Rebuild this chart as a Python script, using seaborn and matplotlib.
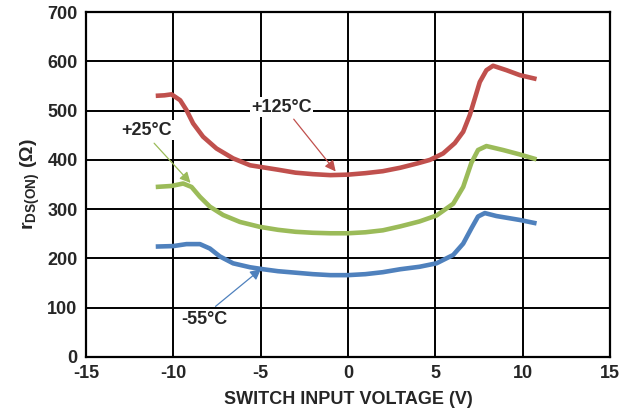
import numpy as np
import pandas as pd
import matplotlib
matplotlib.use("Agg")
import matplotlib.pyplot as plt
import seaborn as sns

# values
x_125 = [-11.0, -10.5, -10.1, -9.6, -9.24, -8.86, -8.29, -7.52, -6.57, -5.6, -4.0, -3.0, -2.0, -1.0,
         0.0, 1.0, 2.0, 3.0, 4.0, 4.7, 5.45, 6.12, 6.6, 6.98, 7.27, 7.55, 7.93, 8.31, 9.08, 9.84, 10.8]
y_125 = [530, 531, 533, 521, 501, 474, 447, 423, 403, 389, 380, 374, 371, 369,
         370, 373, 377, 384, 393, 400, 413, 434, 457, 491, 525, 558, 582, 591, 582, 572, 564]

x_25 = [-11.0, -10.1, -9.43, -8.95, -8.47, -7.9, -7.14, -6.18, -5.04, -4.0, -3.0, -2.0, -1.0,
        0.0, 1.0, 2.0, 3.0, 4.1, 5.07, 6.03, 6.6, 7.07, 7.45, 7.93, 8.88, 9.84, 10.8]
y_25 = [345, 347, 352, 345, 325, 305, 288, 274, 264, 258, 254, 252, 251,
        251, 253, 257, 265, 275, 287, 311, 345, 394, 420, 428, 420, 411, 401]

x_55 = [-11.0, -10.0, -9.24, -8.47, -7.9, -7.33, -6.57, -5.6, -4.85, -4.0, -3.0, -2.0, -1.0,
        0.0, 1.0, 2.0, 3.0, 4.1, 5.07, 6.03, 6.6, 7.07, 7.45, 7.84, 8.5, 9.84, 10.8]
y_55 = [224, 225, 229, 229, 220, 204, 190, 182, 178, 174, 171, 168, 166,
        166, 168, 172, 178, 183, 190, 207, 230, 261, 285, 292, 286, 278, 271]

labels = ["+125°C", "+25°C", "-55°C"]
colors = ["#C0504D", "#9BBB59", "#4F81BD"]
x_ticks = [-15, -10, -5, 0, 5, 10, 15]
y_ticks = [0, 100, 200, 300, 400, 500, 600, 700]

df = pd.concat([
    pd.DataFrame({"v": x_125, "r": y_125, "temp": labels[0]}),
    pd.DataFrame({"v": x_25, "r": y_25, "temp": labels[1]}),
    pd.DataFrame({"v": x_55, "r": y_55, "temp": labels[2]}),
])

sns.set_style("white")
plt.rcParams["font.family"] = ["Liberation Sans", "DejaVu Sans"]
plt.rcParams["axes.unicode_minus"] = False

fig, ax = plt.subplots(figsize=(6.36, 4.16), dpi=100)
sns.lineplot(data=df, x="v", y="r", hue="temp", palette=colors, linewidth=3.3,
             sort=False, legend=False, ax=ax, zorder=3)
for ln in ax.get_lines():
    ln.set_solid_joinstyle("round")
    ln.set_solid_capstyle("butt")

ax.set_xlim(-15, 15)
ax.set_ylim(0, 700)
ax.set_xticks(x_ticks)
ax.set_yticks(y_ticks)
ax.grid(True, color="black", linewidth=1.4)
ax.set_axisbelow(True)
for s in ax.spines.values():
    s.set_color("black")
    s.set_linewidth(1.6)
ax.tick_params(length=0, pad=6, labelsize=13)
for t in ax.get_xticklabels() + ax.get_yticklabels():
    t.set_fontweight("bold")

ax.set_xlabel("SWITCH INPUT VOLTAGE (V)", fontsize=13, fontweight="bold", labelpad=6)
ax.set_ylabel(r"r$_{\mathregular{DS(ON)}}$ (Ω)", fontsize=14, fontweight="bold", labelpad=4)

# annotations: label, text position, arrow start, arrow tip, colour
ann = [
    (labels[0], (-3.8, 507), (-3.2, 487), (-0.6, 372), colors[0]),
    (labels[1], (-11.5, 460), (-11.2, 438), (-8.9, 349), colors[1]),
    (labels[2], (-8.2, 75), (-7.7, 99), (-4.85, 182), colors[2]),
]
for txt, tpos, start, tip, c in ann:
    ax.text(tpos[0], tpos[1], txt, fontsize=13, fontweight="bold", ha="center", va="center",
            bbox=dict(facecolor="white", edgecolor="none", pad=1), zorder=4)
    ax.annotate("", xy=tip, xytext=start,
                arrowprops=dict(arrowstyle="-|>", color=c, lw=0.9, mutation_scale=16), zorder=4)

fig.subplots_adjust(left=0.135, right=0.959, top=0.971, bottom=0.142)
fig.savefig("out.png", dpi=100)
